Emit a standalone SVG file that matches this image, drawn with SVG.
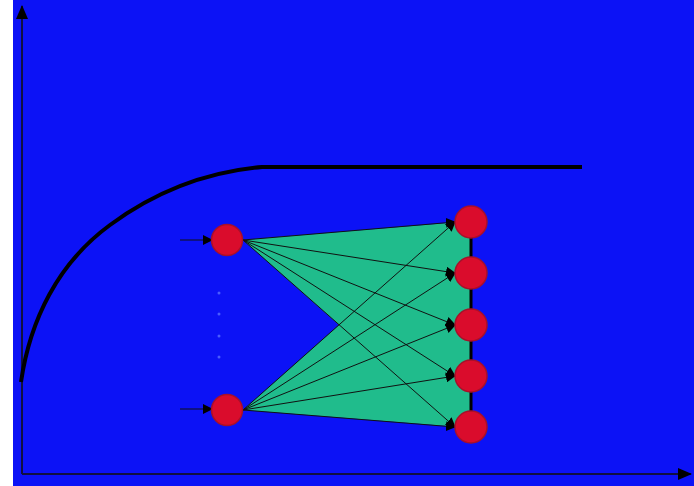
<svg xmlns="http://www.w3.org/2000/svg" width="694" height="486" viewBox="0 0 694 486">
<defs>
<marker id="ah" markerWidth="10" markerHeight="10" refX="9" refY="5" orient="auto" markerUnits="userSpaceOnUse"><path d="M0,0 L10,5 L0,10 Z" fill="#000"/></marker>
<marker id="big" markerWidth="14" markerHeight="14" refX="13" refY="7" orient="auto" markerUnits="userSpaceOnUse"><path d="M0,1 L14,7 L0,13 Z" fill="#000"/></marker>
</defs>
<style>
.edge{stroke:#111;stroke-width:1;fill:none;marker-end:url(#ah)}
.node{fill:#DA0C2C;stroke:#A8102A;stroke-width:1.5}
.dot{fill:#4A5CFF}
</style>
<rect x="0" y="0" width="694" height="486" fill="#fff"/>
<rect x="13" y="0" width="681" height="486" fill="#0C12F6"/>
<g id="axes" stroke="#101040" stroke-width="2" fill="none">
<line x1="22" y1="474" x2="22" y2="6" marker-end="url(#big)"/>
<line x1="22" y1="474" x2="691" y2="474" marker-end="url(#big)"/>
</g>
<path id="curve" d="M21,382 C30,320 58,263 110,225 C155,192 205,172 262,167 L582,167" fill="none" stroke="#000" stroke-width="4"/>
<polygon id="fan" points="243,240 460,222 471,222 471,427 460,427 243,410 339,325" fill="#20BC8C"/>
<line x1="471" y1="222" x2="471" y2="427" stroke="#000" stroke-width="3"/>
<g id="connectors">
<line class="edge" x1="180" y1="240" x2="212" y2="240"/>
<line class="edge" x1="180" y1="409" x2="212" y2="409"/>
<line class="edge" x1="243" y1="240" x2="455" y2="222"/>
<line class="edge" x1="243" y1="240" x2="455" y2="273"/>
<line class="edge" x1="243" y1="240" x2="455" y2="325"/>
<line class="edge" x1="243" y1="240" x2="455" y2="376"/>
<line class="edge" x1="243" y1="240" x2="455" y2="427"/>
<line class="edge" x1="243" y1="410" x2="455" y2="222"/>
<line class="edge" x1="243" y1="410" x2="455" y2="273"/>
<line class="edge" x1="243" y1="410" x2="455" y2="325"/>
<line class="edge" x1="243" y1="410" x2="455" y2="376"/>
<line class="edge" x1="243" y1="410" x2="455" y2="427"/>
</g>
<circle class="dot" cx="219" cy="293" r="1.5"/>
<circle class="dot" cx="219" cy="314" r="1.5"/>
<circle class="dot" cx="219" cy="336" r="1.5"/>
<circle class="dot" cx="219" cy="357" r="1.5"/>
<g id="in1"><circle class="node" cx="227" cy="240" r="15.5"/></g>
<g id="in2"><circle class="node" cx="227" cy="410" r="15.5"/></g>
<g id="out1"><circle class="node" cx="471" cy="222" r="16"/></g>
<g id="out2"><circle class="node" cx="471" cy="273" r="16"/></g>
<g id="out3"><circle class="node" cx="471" cy="325" r="16"/></g>
<g id="out4"><circle class="node" cx="471" cy="376" r="16"/></g>
<g id="out5"><circle class="node" cx="471" cy="427" r="16"/></g>
</svg>
